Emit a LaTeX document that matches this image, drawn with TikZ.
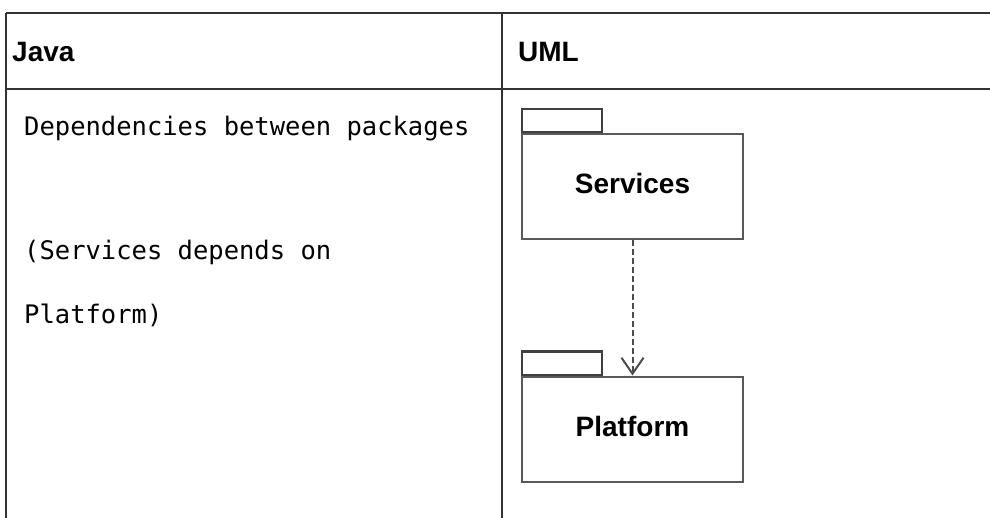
\documentclass[tikz,border=0pt]{standalone}
\usepackage{fontspec}
\setmainfont{Liberation Sans}
\newfontfamily\codefont{DejaVu Sans Mono}
\usetikzlibrary{arrows.meta}
\begin{document}
\begin{tikzpicture}[x=1pt,y=-1pt,
  tableline/.style={draw=black!80, line width=2.6pt},
  pkgbody/.style={draw=black!65, line width=2pt, fill=white, minimum width=221pt, minimum height=105pt, inner sep=0pt, font=\fontsize{28}{30}\selectfont\bfseries},
  pkgtab/.style={draw=black!75, line width=2pt, minimum width=80pt, minimum height=23pt, inner sep=0pt, anchor=south west},
  head/.style={font=\fontsize{28}{30}\selectfont\bfseries, anchor=west, inner sep=0pt},
  code/.style={font=\codefont\fontsize{25.5}{28}\selectfont, anchor=west, inner sep=0pt},
  dep/.style={draw=black!70, line width=2pt, dash pattern=on 6pt off 3pt, -{Straight Barb[length=16pt, width=22pt, line width=2pt]}}
]
\useasboundingbox (0,0) rectangle (990,518);
% table
\coordinate (tl) at (6,13);
\coordinate (tr) at (990,13);
\coordinate (ml) at (6,89);
\coordinate (mr) at (990,89);
\coordinate (bl) at (6,518);
\coordinate (dt) at (502,13);
\coordinate (db) at (502,518);
\draw[tableline] (tl) -- (tr);
\draw[tableline] (ml) -- (mr);
\draw[tableline] (tl) -- (bl);
\draw[tableline] (dt) -- (db);
% headers
\node[head] (java) at (12,52) {Java};
\node[head] (uml) at (518,52) {UML};
% code text
\node[code] (t1) at (24,129) {Dependencies between packages};
\node[code] (t2) at (24,252) {(Services depends on};
\node[code] (t3) at (24,315) {Platform)};
% packages
\node[pkgbody] (svc) at (632.5,186.5) {\raisebox{6pt}{Services}};
\node[pkgtab] (svctab) at (svc.north west) {};
\node[pkgbody] (plt) at (632.5,429) {\raisebox{6pt}{Platform}};
\node[pkgtab] (plttab) at (plt.north west) {};
\draw[dep] (svc.south) -- (plt.north);
\end{tikzpicture}
\end{document}
